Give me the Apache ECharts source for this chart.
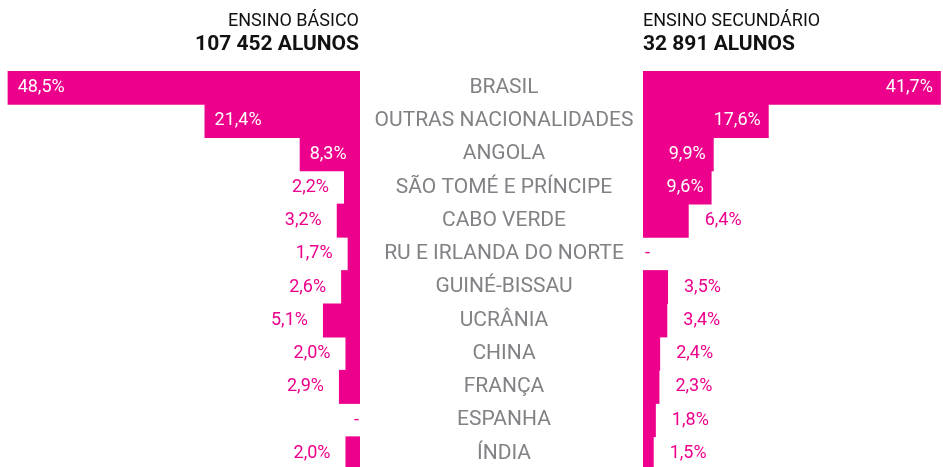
<!DOCTYPE html>
<html>
<head>
<meta charset="utf-8">
<script src="https://cdn.jsdelivr.net/npm/echarts@6/dist/echarts.min.js"></script>
<style>
  html, body { margin: 0; padding: 0; background: #fff; }
  #chart { width: 943px; height: 467px; }
</style>
</head>
<body>
<div id="chart"></div>
<script>
  // nacionalidades
  const countries = ['BRASIL', 'OUTRAS NACIONALIDADES', 'ANGOLA', 'SÃO TOMÉ E PRÍNCIPE', 'CABO VERDE',
    'RU E IRLANDA DO NORTE', 'GUINÉ-BISSAU', 'UCRÂNIA', 'CHINA', 'FRANÇA', 'ESPANHA', 'ÍNDIA']
  // % de alunos estrangeiros (0 = sem valor, desenhado como "-")
  const basico = [48.5, 21.4, 8.3, 2.2, 3.2, 1.7, 2.6, 5.1, 2.0, 2.9, 0, 2.0]
  const secundario = [41.7, 17.6, 9.9, 9.6, 6.4, 0, 3.5, 3.4, 2.4, 2.3, 1.8, 1.5]

  const PINK = '#EC008C'
  const FONT = 'Roboto'

  function fmt(v) {
    return v === 0 ? '-' : v.toFixed(1).replace('.', ',') + '%'
  }

  function leftItem(v) {
    if (v >= 8) {
      return {value: v, label: {position: 'insideLeft', distance: 10, color: '#fff'}}
    }
    return {value: v, label: {position: 'left', distance: v === 0 ? 1 : 15, color: PINK}}
  }

  function rightItem(v) {
    if (v >= 8) {
      return {value: v, label: {position: 'insideRight', distance: 8, color: '#fff'}}
    }
    return {value: v, label: {position: 'right', distance: v === 0 ? 2 : 16, color: PINK}}
  }

  const headStyle = {fontFamily: FONT, fontSize: 18, fontWeight: 'normal', color: '#111'}
  const totalStyle = {fontFamily: FONT, fontSize: 21, fontWeight: 'bold', color: '#111'}
  const valueLabel = {show: true, fontFamily: FONT, fontSize: 18, padding: [5, 0, 0, 0], formatter: p => fmt(p.value)}

  const chart = echarts.init(document.getElementById('chart'))

  chart.setOption({
    animation: false,
    title: [
      {text: 'ENSINO BÁSICO', right: 584, top: 12, padding: 0, textStyle: headStyle},
      {text: '107 452 ALUNOS', right: 584, top: 34, padding: 0, textStyle: totalStyle},
      {text: 'ENSINO SECUNDÁRIO', left: 643, top: 12, padding: 0, textStyle: headStyle},
      {text: '32 891 ALUNOS', left: 643, top: 34, padding: 0, textStyle: totalStyle}
    ],
    grid: [
      {left: 4, right: 583, top: 71, height: 399, outerBoundsMode: 'none'},
      {left: 643, right: 0, top: 71, height: 399, outerBoundsMode: 'none'}
    ],
    xAxis: [
      {type: 'value', gridIndex: 0, min: 0, max: 49, inverse: true, show: false},
      {type: 'value', gridIndex: 1, min: 0, max: 42, show: false}
    ],
    yAxis: [
      {
        type: 'category',
        gridIndex: 0,
        data: countries,
        inverse: true,
        position: 'right',
        axisLine: {show: false},
        axisTick: {show: false},
        axisLabel: {
          margin: 144,
          align: 'center',
          color: '#808285',
          fontFamily: FONT,
          fontSize: 21,
          padding: [7, 0, 0, 0]
        }
      },
      {type: 'category', gridIndex: 1, data: countries, inverse: true, show: false}
    ],
    series: [
      {
        type: 'bar',
        xAxisIndex: 0,
        yAxisIndex: 0,
        barWidth: 34,
        itemStyle: {color: PINK},
        label: valueLabel,
        data: basico.map(leftItem)
      },
      {
        type: 'bar',
        xAxisIndex: 1,
        yAxisIndex: 1,
        barWidth: 34,
        itemStyle: {color: PINK},
        label: valueLabel,
        data: secundario.map(rightItem)
      }
    ]
  })
</script>
</body>
</html>
